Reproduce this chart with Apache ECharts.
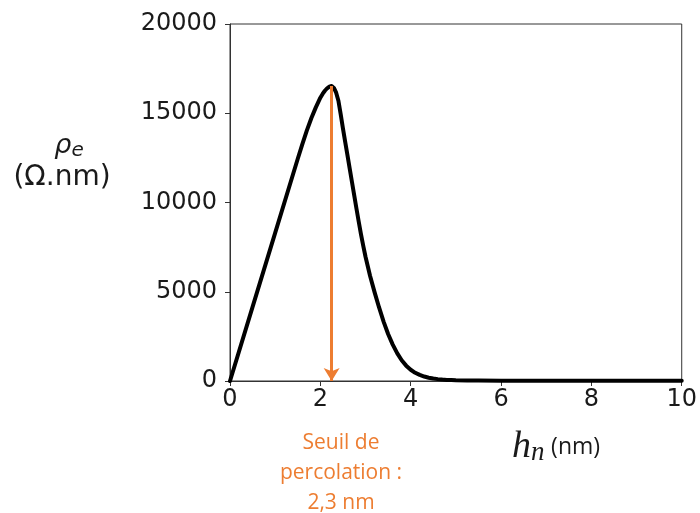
<!DOCTYPE html>
<html>
<head>
<meta charset="utf-8">
<script src="https://cdn.jsdelivr.net/npm/echarts@6/dist/echarts.min.js"></script>
<style>html,body{margin:0;padding:0;background:#fff;}#c{width:700px;height:513px;}</style>
</head>
<body>
<div id="c"></div>
<script>
const hn = [0, 0.5, 1.0, 1.5, 1.6, 1.7, 1.8, 1.9, 2.0, 2.05, 2.1, 2.15, 2.2, 2.25, 2.3, 2.35, 2.4, 2.45, 2.5, 2.55, 2.6, 2.65, 2.7, 2.75, 2.8, 2.85, 2.9, 2.95, 3.0, 3.1, 3.2, 3.3, 3.4, 3.5, 3.6, 3.7, 3.8, 3.9, 4.0, 4.1, 4.2, 4.3, 4.4, 4.5, 4.6, 4.7, 4.8, 4.9, 5.0, 5.25, 5.5, 6, 7, 8, 9, 10];
const rho = [0, 4150, 8300, 12450, 13260, 14030, 14720, 15330, 15870, 16080, 16260, 16400, 16490, 16530, 16420, 16150, 15700, 14950, 14150, 13400, 12650, 11900, 11150, 10400, 9650, 8920, 8220, 7570, 6960, 5900, 4980, 4120, 3330, 2630, 2050, 1560, 1160, 860, 630, 460, 340, 250, 185, 140, 105, 80, 62, 50, 40, 30, 22, 16, 12, 10, 10, 10];
const xTicks = [0, 2, 4, 6, 8, 10];
const yTicks = [0, 5000, 10000, 15000, 20000];
const threshold = 2.25;
const thresholdTop = 16530;
const annotationLines = ['Seuil de', 'percolation :', '2,3 nm'];

const chart = echarts.init(document.getElementById('c'));
const orange = '#ED7D31';
chart.setOption({
  animation: false,
  backgroundColor: '#fff',
  grid: { left: 230, right: 15, top: 24, bottom: 132, show: true, borderColor: '#333', borderWidth: 1 },
  xAxis: {
    type: 'value', min: xTicks[0], max: xTicks[xTicks.length - 1], interval: 2,
    axisLine: { show: true, lineStyle: { color: '#333', width: 1 } },
    axisTick: { show: true, length: 5, lineStyle: { color: '#333' } },
    axisLabel: { color: '#1a1a1a', fontFamily: 'DejaVu Sans', fontSize: 24, margin: 7, formatter: v => String(v) },
    splitLine: { show: false }
  },
  yAxis: {
    type: 'value', min: yTicks[0], max: yTicks[yTicks.length - 1], interval: 5000,
    axisLine: { show: true, lineStyle: { color: '#333', width: 1 } },
    axisTick: { show: true, length: 5, lineStyle: { color: '#333' } },
    axisLabel: { color: '#1a1a1a', fontFamily: 'DejaVu Sans', fontSize: 24, margin: 13, formatter: v => String(v) },
    splitLine: { show: false }
  },
  series: [{
    type: 'line',
    data: hn.map((x, i) => [x, rho[i]]),
    smooth: false,
    showSymbol: false,
    lineStyle: { color: '#000', width: 4, join: 'round', cap: 'round' },
    z: 3,
    markLine: {
      silent: true,
      symbol: ['none', 'arrow'],
      symbolSize: [12, 13],
      label: { show: false },
      lineStyle: { color: orange, width: 3, type: 'solid' },
      data: [[{ coord: [threshold, thresholdTop] }, { coord: [threshold, 0] }]],
      z: 4
    }
  }],
  graphic: [
    {
      type: 'text',
      style: {
        x: 69, y: 146, text: '{r|ρ}{s|e}', textAlign: 'center', textVerticalAlign: 'middle',
        rich: {
          r: { fontFamily: 'DejaVu Sans', fontStyle: 'italic', fontSize: 27, fill: '#1a1a1a' },
          s: { fontFamily: 'DejaVu Sans', fontStyle: 'italic', fontSize: 20, fill: '#1a1a1a', padding: [10, 0, 0, 0] }
        }
      }
    },
    {
      type: 'text',
      style: { x: 62, y: 178, text: '(Ω.nm)', textAlign: 'center', textVerticalAlign: 'middle', fontFamily: 'DejaVu Sans', fontSize: 28, fill: '#1a1a1a' }
    },
    {
      type: 'text',
      style: {
        x: 556, y: 447, text: '{h|h}{n|n}  {u|(nm)}', textAlign: 'center', textVerticalAlign: 'middle',
        rich: {
          h: { fontFamily: 'Liberation Serif', fontStyle: 'italic', fontSize: 38, fill: '#1a1a1a' },
          n: { fontFamily: 'Liberation Serif', fontStyle: 'italic', fontSize: 27, fill: '#1a1a1a', padding: [12, 0, 0, 0] },
          u: { fontFamily: 'Open Sans', fontSize: 23, fill: '#1a1a1a' }
        }
      }
    },
    {
      type: 'text',
      style: {
        x: 341, y: 473, text: annotationLines.join('\n'), textAlign: 'center', textVerticalAlign: 'middle',
        fontFamily: 'Open Sans', fontSize: 21, lineHeight: 30, fill: orange
      }
    }
  ]
});
</script>
</body>
</html>
